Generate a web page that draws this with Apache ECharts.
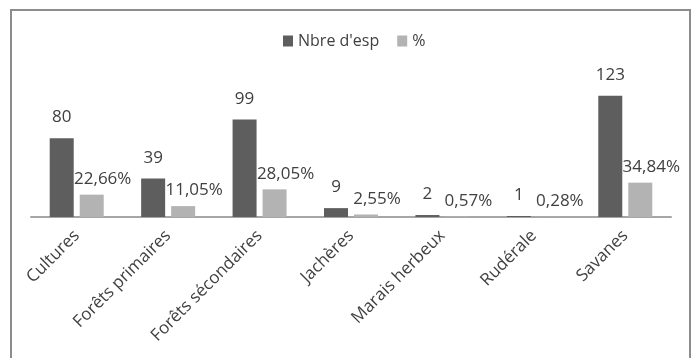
<!DOCTYPE html>
<html>
<head>
<meta charset="utf-8">
<script src="https://cdn.jsdelivr.net/npm/echarts@6/dist/echarts.min.js"></script>
<style>
html,body{margin:0;padding:0;background:#fff;}
#chart{width:696px;height:358px;}
</style>
</head>
<body>
<div id="chart"></div>
<script>
const categories = ['Cultures', 'Forêts primaires', 'Forêts sécondaires', 'Jachères', 'Marais herbeux', 'Rudérale', 'Savanes'];
const nbreEsp = [80, 39, 99, 9, 2, 1, 123];
const pourcent = [22.66, 11.05, 28.05, 2.55, 0.57, 0.28, 34.84];
const seriesNames = ["Nbre d'esp", '%'];

const FONT = '"Open Sans", sans-serif';
const TXT = '#404040';

const chart = echarts.init(document.getElementById('chart'), null, {renderer: 'canvas'});
chart.setOption({
  animation: false,
  backgroundColor: '#ffffff',
  textStyle: {fontFamily: FONT},
  graphic: [{
    type: 'rect',
    shape: {x: 11, y: 10, width: 679, height: 420},
    style: {fill: 'none', stroke: '#8c8c8c', lineWidth: 2},
    silent: true
  }],
  legend: {
    left: 283, top: 33,
    itemWidth: 10, itemHeight: 11, itemGap: 18,
    textStyle: {fontFamily: FONT, fontSize: 16, color: TXT, padding: [0, 0, 0, 0]},
    icon: 'rect',
    padding: 0,
    data: seriesNames
  },
  grid: {left: 31, right: 25, top: 79, bottom: 141, containLabel: false},
  xAxis: {
    type: 'category',
    data: categories,
    axisLine: {lineStyle: {color: '#a6a6a6', width: 2}},
    axisTick: {show: false},
    axisLabel: {rotate: 45, fontSize: 17, color: TXT, fontFamily: FONT, margin: 16, interval: 0}
  },
  yAxis: {
    type: 'value', min: 0, max: 140,
    show: false,
    splitLine: {show: false}
  },
  series: [
    {
      name: seriesNames[0], type: 'bar', data: nbreEsp,
      barWidth: 24, barGap: '25%',
      itemStyle: {color: '#5e5e5e'},
      label: {show: true, position: 'top', distance: 12, fontSize: 17, color: TXT, fontFamily: FONT}
    },
    {
      name: seriesNames[1], type: 'bar', data: pourcent,
      barWidth: 24, barGap: '25%',
      itemStyle: {color: '#b3b3b3'},
      label: {show: true, position: 'top', distance: 7, offset: [11, 0], fontSize: 17, color: TXT, fontFamily: FONT,
        formatter: p => p.value.toFixed(2).replace('.', ',') + '%'}
    }
  ]
});
</script>
</body>
</html>
